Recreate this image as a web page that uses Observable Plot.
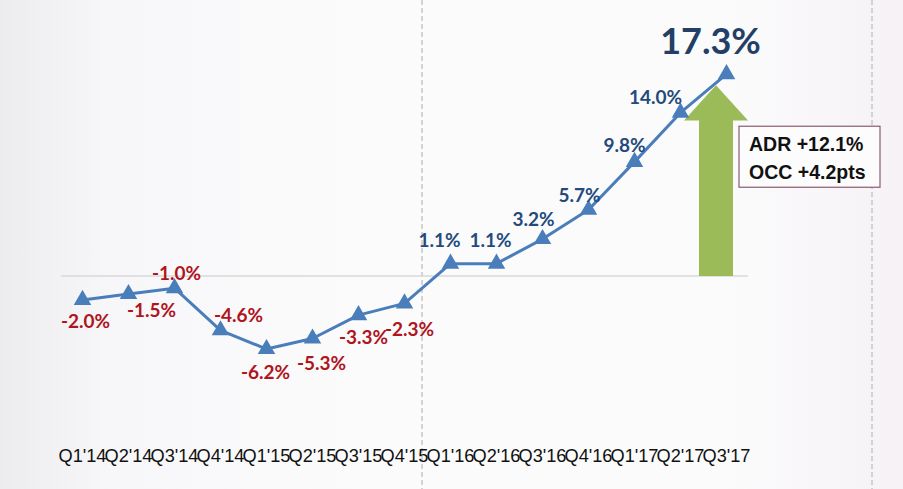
<!DOCTYPE html>
<html>
<head>
<meta charset="utf-8">
<script src="https://cdn.jsdelivr.net/npm/d3@7"></script>
<script src="https://cdn.jsdelivr.net/npm/@observablehq/plot@0.6"></script>
<style>
  html, body { margin: 0; padding: 0; }
  body {
    width: 903px; height: 489px; overflow: hidden;
    background: linear-gradient(to right, #ececef 0%, #f7f7f9 12%, #fbfbfc 40%, #fbfbfc 80%, #f6f2f5 100%);
  }
  #chart svg { display: block; }
</style>
</head>
<body>
<div id="chart"></div>
<script>
// ---- data ----
const quarters = ["Q1'14","Q2'14","Q3'14","Q4'14","Q1'15","Q2'15","Q3'15","Q4'15",
                  "Q1'16","Q2'16","Q3'16","Q4'16","Q1'17","Q2'17","Q3'17"];
const growth = [-2.0, -1.5, -1.0, -4.6, -6.2, -5.3, -3.3, -2.3,
                1.1, 1.1, 3.2, 5.7, 9.8, 14.0, 17.3];
const growthLabels = ["-2.0%","-1.5%","-1.0%","-4.6%","-6.2%","-5.3%","-3.3%","-2.3%",
                      "1.1%","1.1%","3.2%","5.7%","9.8%","14.0%","17.3%"];
const boxLines = ["ADR +12.1%", "OCC +4.2pts"];

// ---- layout (label offsets in px) ----
const labelOffsets = [[3,22],[23,17],[2,-14],[18,-14],[-1,24],[9,25],[5,23],[5,26],
                      [-11,-23],[-6,-23],[-9,-19],[-9,-14],[-10,-16],[-25,-15],[-16,-32]];

const rows = quarters.map((q, i) => ({q, v: growth[i], label: growthLabels[i], i}));

const lineColor = "#4a7ebb";
const posColor = "#244a7c";
const negColor = "#b0141c";

function decorations(index, scales, values, dimensions) {
  const {x, y} = scales;
  const g = d3.create("svg:g");
  const H = dimensions.height;
  // dashed vertical guides
  const xd1 = (x("Q4'15") + x("Q1'16")) / 2 - 5;
  const xd2 = x("Q3'17") + 146;
  for (const xd of [xd1, xd2]) {
    g.append("line").attr("x1", xd).attr("x2", xd).attr("y1", 0).attr("y2", H)
      .attr("stroke", "#b9b9bd").attr("stroke-width", 1.2).attr("stroke-dasharray", "5,3");
  }
  // zero line
  g.append("line").attr("x1", x(quarters[0]) - 21).attr("x2", x("Q3'17") + 22)
    .attr("y1", y(0)).attr("y2", y(0)).attr("stroke", "#d8d8da").attr("stroke-width", 1.5);
  // green arrow
  const cx = x("Q3'17") - 10;
  const tip = y(16.3), headBase = y(13.3), bottom = y(0);
  const hw = 32, sw = 17;
  g.append("path")
    .attr("d", `M${cx},${tip} L${cx + hw},${headBase} L${cx + sw},${headBase} L${cx + sw},${bottom}
                L${cx - sw},${bottom} L${cx - sw},${headBase} L${cx - hw},${headBase} Z`)
    .attr("fill", "#9bbb59");
  return g.node();
}

function infoBox(index, scales) {
  const {x, y} = scales;
  const g = d3.create("svg:g");
  const bx = x("Q3'17") + 13, by = y(12.8);
  g.append("rect").attr("x", bx).attr("y", by).attr("width", 141).attr("height", 61)
    .attr("fill", "#fcfcfd").attr("stroke", "#8c5a6e").attr("stroke-width", 1.2);
  boxLines.forEach((t, i) => {
    g.append("text").attr("x", bx + 10).attr("y", by + 25 + i * 28)
      .attr("text-anchor", "start")
      .attr("font-family", "'Liberation Sans', Arial, sans-serif")
      .attr("font-weight", "bold").attr("font-size", 19.5).attr("fill", "#111")
      .text(t);
  });
  return g.node();
}

const labelMarks = rows.map((d, i) => Plot.text([d], {
  x: "q", y: "v", text: "label",
  dx: labelOffsets[i][0], dy: labelOffsets[i][1],
  fill: d.v < 0 ? negColor : (i === rows.length - 1 ? "#243f66" : posColor),
  fontSize: i === rows.length - 1 ? 36 : 19,
  fontWeight: "bold",
  fontFamily: "Lato, 'Open Sans', sans-serif",
  textAnchor: "middle", lineAnchor: "middle"
}));

const plot = Plot.plot({
  width: 903, height: 489,
  marginLeft: 78, marginRight: 173, marginTop: 42, marginBottom: 96,
  style: {background: "transparent", overflow: "visible"},
  x: {type: "point", domain: quarters, padding: 0},
  y: {domain: [-10, 20], axis: null},
  marks: [
    decorations,
    Plot.axisX({tickSize: 0, tickPadding: 56, fontSize: 18.2, fill: "#111",
                fontFamily: "'Liberation Sans', Arial, sans-serif", label: null}),
    Plot.line(rows, {x: "q", y: "v", stroke: lineColor, strokeWidth: 3}),
    Plot.dot(rows, {x: "q", y: "v", symbol: "triangle", r: 6.5, fill: lineColor, stroke: "none"}),
    ...labelMarks,
    infoBox
  ]
});
document.getElementById("chart").appendChild(plot);
</script>
</body>
</html>
